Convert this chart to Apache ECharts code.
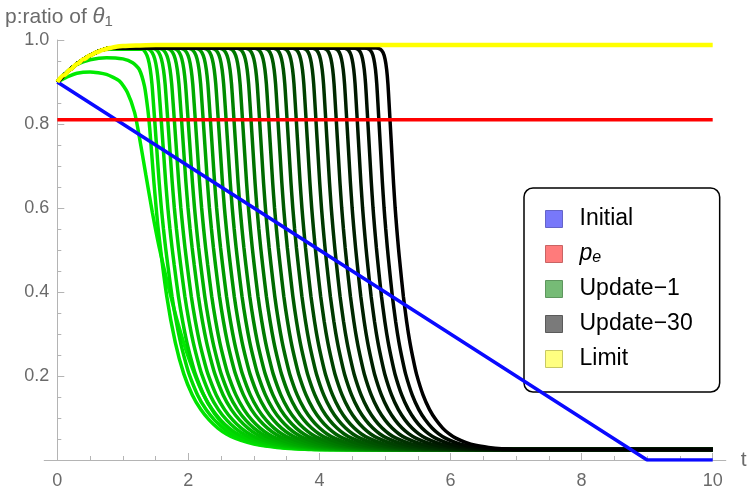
<!DOCTYPE html>
<html>
<head>
<meta charset="utf-8">
<script src="https://cdn.jsdelivr.net/npm/echarts@6/dist/echarts.min.js"></script>
<style>html,body{margin:0;padding:0;background:#fff}#c{width:750px;height:496px}</style>
</head>
<body>
<div id="c"></div>
<script>
// ---- data ----
const xTicks = [0, 2, 4, 6, 8, 10];
const yTicks = [0.2, 0.4, 0.6, 0.8, 1.0];

const initialT = [0, 9, 10];
const initialP = [0.9, 0, 0];

const peValue = 0.81;

const limitT = [0, 0.1, 0.2, 0.3, 0.4, 0.5, 0.6, 0.7, 0.8, 0.9, 1.0, 1.2, 1.5, 10];
const limitP = [0.900, 0.916, 0.930, 0.943, 0.954, 0.963, 0.971, 0.977, 0.981, 0.984, 0.986, 0.987, 0.988, 0.988];

const update1T = [0, 0.15, 0.3, 0.5, 0.75, 0.95, 1.07, 1.18, 1.25, 1.35, 1.45, 1.55, 1.7, 1.85, 2.0, 2.2, 2.4, 2.6, 2.8, 3.0, 3.3, 3.7, 4.2, 10];
const update1P = [0.9, 0.912, 0.921, 0.924, 0.918, 0.902, 0.875, 0.827, 0.771, 0.68, 0.59, 0.51, 0.41, 0.32, 0.245, 0.165, 0.11, 0.074, 0.052, 0.04, 0.032, 0.027, 0.025, 0.025];

const update2T = [0, 0.15, 0.3, 0.5, 0.75, 1.0, 1.15, 1.25, 1.33, 1.38, 1.41, 1.44, 1.475, 1.54, 1.67, 1.80, 1.93, 2.06, 2.19, 2.32, 2.45, 2.58, 2.71, 2.9, 3.1, 3.35, 3.6, 4.0, 10];
const update2P = [0.9, 0.925, 0.942, 0.953, 0.958, 0.955, 0.946, 0.93, 0.89, 0.836, 0.79, 0.73, 0.66, 0.55, 0.39, 0.28, 0.205, 0.155, 0.12, 0.095, 0.076, 0.062, 0.052, 0.042, 0.035, 0.03, 0.027, 0.025, 0.025];

// fall profile of Update-30 (offset from its 0.8 crossing)
const fallDt = [-0.22, -0.15, -0.11, -0.08, -0.055, -0.035, -0.018, 0, 0.025, 0.05, 0.075, 0.1, 0.125, 0.15, 0.2, 0.25, 0.3, 0.35, 0.4, 0.5, 0.6, 0.7, 0.8, 0.9, 1.0, 1.15, 1.3, 1.5, 1.7, 2.0, 2.3];
const fallP  = [0.981, 0.978, 0.97, 0.955, 0.93, 0.895, 0.85, 0.80, 0.73, 0.66, 0.60, 0.55, 0.505, 0.465, 0.39, 0.33, 0.28, 0.24, 0.205, 0.155, 0.12, 0.095, 0.076, 0.062, 0.052, 0.042, 0.035, 0.03, 0.027, 0.025, 0.025];
// updates 3..30: time of the 0.8 crossing, widening of the fall, plateau level
const dropTimes = [1.49, 1.59, 1.69, 1.79, 1.90, 2.00, 2.11, 2.23, 2.34, 2.46, 2.58, 2.70, 2.83, 2.96, 3.09, 3.23, 3.37, 3.51, 3.65, 3.80, 3.95, 4.10, 4.26, 4.42, 4.58, 4.74, 4.91, 5.08];
const fallWidth = [1.30, 1.29, 1.28, 1.27, 1.26, 1.25, 1.23, 1.22, 1.21, 1.20, 1.19, 1.18, 1.16, 1.15, 1.14, 1.13, 1.12, 1.11, 1.10, 1.09, 1.08, 1.07, 1.06, 1.05, 1.04, 1.03, 1.01, 1.00];
const plateaus  = [0.978, 0.981, 0.981, 0.981, 0.981, 0.981, 0.981, 0.981, 0.981, 0.981, 0.981, 0.981, 0.981, 0.981, 0.981, 0.981, 0.981, 0.981, 0.981, 0.981, 0.981, 0.981, 0.981, 0.981, 0.981, 0.981, 0.981, 0.981];
const floorP = 0.025;
const tEnd = 10;

// ---- build series ----
function zip(a, b) { return a.map((v, i) => [v, b[i]]); }

function updateCurve(drop, w, plat) {
  const pts = [];
  const start = drop + fallDt[0] * w;
  for (let i = 0; i < limitT.length; i++) {
    if (limitT[i] < start - 0.02) pts.push([limitT[i], Math.min(limitP[i], plat)]);
  }
  for (let i = 0; i < fallDt.length; i++) pts.push([drop + fallDt[i] * w, Math.min(fallP[i], plat)]);
  pts.push([tEnd, floorP]);
  return pts;
}

const curves = [zip(update1T, update1P), zip(update2T, update2P)];
dropTimes.forEach((d, i) => curves.push(updateCurve(d, fallWidth[i], plateaus[i])));

const N = curves.length;
function greenShade(k) {
  const f = k / (N - 1);
  const g = Math.round(235 * (1 - f));
  return 'rgb(0,' + g + ',0)';
}

const series = [];
curves.forEach((c, k) => {
  series.push({
    name: 'Update\u2212' + (k + 1),
    type: 'line', data: c, showSymbol: false, smooth: 0.2,
    lineStyle: { color: greenShade(k), width: 3.5 }, itemStyle: { color: greenShade(k) },
    z: 2, silent: true
  });
});
series.push({
  name: 'Initial', type: 'line', data: zip(initialT, initialP), showSymbol: false,
  lineStyle: { color: '#0a0aff', width: 3.5 }, itemStyle: { color: '#0a0aff' }, z: 4
});
series.push({
  name: 'pe', type: 'line', data: [[0, peValue], [tEnd, peValue]], showSymbol: false,
  lineStyle: { color: '#ff0000', width: 3.5 }, itemStyle: { color: '#ff0000' }, z: 5
});
series.push({
  name: 'Limit', type: 'line', data: zip(limitT, limitP), showSymbol: false, smooth: 0.3, smoothMonotone: 'x',
  lineStyle: { color: '#ffff00', width: 4.5 }, itemStyle: { color: '#ffff00' }, z: 6
});

const axisGray = '#b4b4b4';
const labelGray = '#6a6a6a';
const FONT = 'Liberation Sans';

const option = {
  animation: false,
  backgroundColor: '#ffffff',
  title: {
    text: 'p:ratio of {i|θ}{s|1}', left: 0, top: 0,
    textStyle: {
      fontFamily: FONT, fontSize: 21, fontWeight: 'normal', color: labelGray,
      rich: {
        i: { fontFamily: FONT, fontSize: 22, fontStyle: 'italic', color: labelGray },
        s: { fontFamily: FONT, fontSize: 15, color: labelGray, verticalAlign: 'bottom', padding: [9, 0, 0, 0] }
      }
    }
  },
  grid: [
    { left: 57.3, top: 40, width: 655.4, height: 420, containLabel: false },
    { left: 44.2, top: 40, width: 681.6, height: 420, containLabel: false }
  ],
  xAxis: [
    {
      type: 'value', gridIndex: 0, min: 0, max: 10, interval: 2,
      splitLine: { show: false },
      axisLine: { show: false },
      axisTick: { show: true, inside: true, length: 7, lineStyle: { color: axisGray } },
      minorTick: { show: true, splitNumber: 4, length: 4, lineStyle: { color: axisGray } },
      axisLabel: { color: labelGray, fontFamily: FONT, fontSize: 18, margin: 12,
        formatter: v => (xTicks.indexOf(v) >= 0 ? String(v) : '') }
    },
    {
      type: 'value', gridIndex: 1, min: -0.2, max: 10.2,
      splitLine: { show: false },
      axisLine: { show: true, lineStyle: { color: axisGray, width: 1 } },
      axisTick: { show: false }, axisLabel: { show: false },
      name: 't', nameLocation: 'end', nameGap: 15,
      nameTextStyle: { color: labelGray, fontFamily: FONT, fontSize: 21, verticalAlign: 'middle', padding: [0, 0, 4, 0] }
    }
  ],
  yAxis: [
    {
      type: 'value', gridIndex: 0, min: 0, max: 1.0, interval: 0.2,
      splitLine: { show: false },
      axisLine: { show: true, onZero: false, lineStyle: { color: axisGray, width: 1 } },
      axisTick: { show: true, inside: true, length: 7, lineStyle: { color: axisGray } },
      minorTick: { show: true, splitNumber: 4, length: 4, lineStyle: { color: axisGray } },
      axisLabel: { color: labelGray, fontFamily: FONT, fontSize: 18, margin: 8,
        formatter: v => { const m = yTicks.find(t => Math.abs(t - v) < 1e-9); return m === undefined ? '' : m.toFixed(1); } }
    },
    { type: 'value', gridIndex: 1, min: 0, max: 1, show: false }
  ],
  legend: {
    orient: 'vertical', left: 524, top: 188,
    data: [
      { name: 'Initial', itemStyle: { color: '#7878fa', borderColor: '#6464c8', borderWidth: 1 } },
      { name: 'pe', itemStyle: { color: '#ff7b7b', borderColor: '#c86464', borderWidth: 1 } },
      { name: 'Update\u22121', itemStyle: { color: '#76bb76', borderColor: '#5e965e', borderWidth: 1 } },
      { name: 'Update\u221230', itemStyle: { color: '#7a7a7a', borderColor: '#5a5a5a', borderWidth: 1 } },
      { name: 'Limit', itemStyle: { color: '#ffff80', borderColor: '#c8c864', borderWidth: 1 } }
    ],
    icon: 'rect', itemWidth: 17, itemHeight: 17, itemGap: 11,
    padding: [19, 27, 21, 21],
    backgroundColor: '#ffffff', borderColor: '#000000', borderWidth: 1.5, borderRadius: 9,
    selectedMode: false,
    formatter: name => (name === 'pe' ? '{i|p}{s|e}' : name),
    textStyle: {
      fontFamily: FONT, fontSize: 23, color: '#000', lineHeight: 24, padding: [0, 0, 0, 12],
      rich: {
        i: { fontFamily: FONT, fontSize: 23, fontStyle: 'italic', color: '#000' },
        s: { fontFamily: FONT, fontSize: 16, fontStyle: 'italic', color: '#000', verticalAlign: 'bottom', padding: [10, 0, 0, 0] }
      }
    }
  },
  series: series
};

const chart = echarts.init(document.getElementById('c'), null, { renderer: 'canvas' });
chart.setOption(option);
</script>
</body>
</html>
